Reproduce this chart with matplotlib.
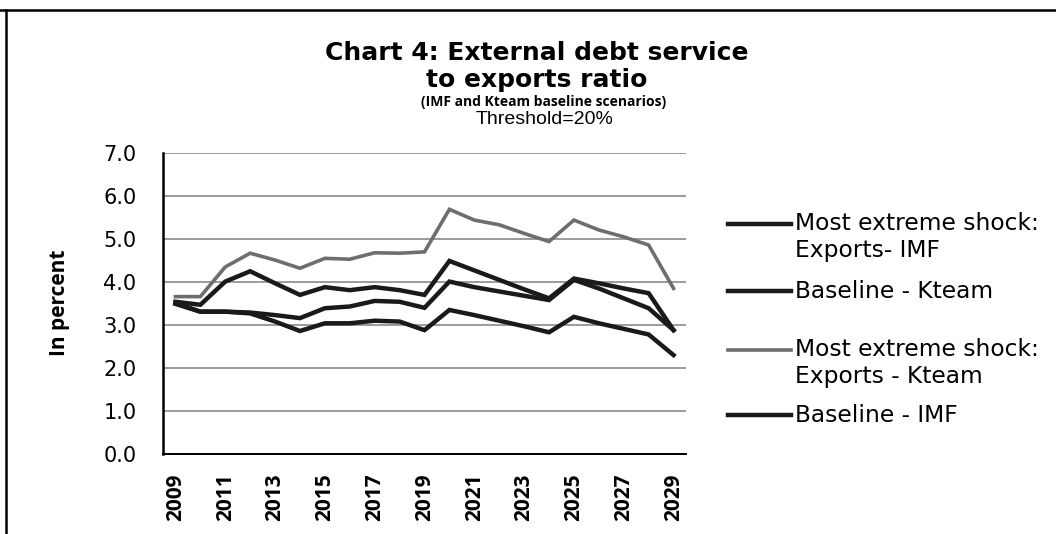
import matplotlib
matplotlib.use("Agg")
import matplotlib.pyplot as plt
from matplotlib.lines import Line2D

years = [str(y) for y in range(2009, 2030)]
tick_labels = [str(y) for y in range(2009, 2030, 2)]
y_ticks = [0, 1, 2, 3, 4, 5, 6, 7]

shock_imf = [3.54, 3.47, 4.01, 4.25, 3.97, 3.70, 3.88, 3.81, 3.88, 3.81, 3.70,
             4.49, 4.27, 4.05, 3.83, 3.62, 4.08, 3.97, 3.85, 3.74, 2.88]
base_kteam = [3.49, 3.31, 3.31, 3.29, 3.23, 3.16, 3.39, 3.43, 3.56, 3.54, 3.40,
              4.01, 3.88, 3.78, 3.68, 3.58, 4.05, 3.85, 3.62, 3.39, 2.88]
shock_kteam = [3.66, 3.66, 4.35, 4.67, 4.51, 4.32, 4.55, 4.53, 4.68, 4.67, 4.70,
               5.69, 5.44, 5.33, 5.13, 4.94, 5.44, 5.21, 5.05, 4.86, 3.85]
base_imf = [3.51, 3.31, 3.31, 3.27, 3.08, 2.86, 3.04, 3.04, 3.10, 3.08, 2.88,
            3.35, 3.23, 3.10, 2.97, 2.83, 3.19, 3.04, 2.91, 2.78, 2.30]

series = [
    (["Most extreme shock:", "Exports- IMF"], shock_imf, "#1a1a1a", 3.2),
    (["Baseline - Kteam"], base_kteam, "#1a1a1a", 3.2),
    (["Most extreme shock:", "Exports - Kteam"], shock_kteam, "#6e6e6e", 2.6),
    (["Baseline - IMF"], base_imf, "#1a1a1a", 3.2),
]

W, H = 1056, 534
fig = plt.figure(figsize=(W / 100, H / 100), dpi=100)
fig.patch.set_facecolor("white")

def fx(px):
    return px / W

def fy(py):
    return 1 - py / H

narrow = ["Open Sans", "DejaVu Sans"]

ax = fig.add_axes([fx(163), fy(454), fx(686) - fx(163), fy(153) - fy(454)])
x = list(range(len(years)))
for labels, vals, col, lw in series:
    ax.plot(x, vals, color=col, lw=lw, solid_joinstyle="miter")

ax.set_xlim(-0.5, len(years) - 0.5)
ax.set_ylim(0, 7)
ax.set_yticks(y_ticks)
ax.set_yticklabels([f"{v:.1f}" for v in y_ticks], fontsize=15, family="DejaVu Sans")
ax.set_xticks(x[::2])
ax.set_xticklabels(tick_labels, rotation=90, fontsize=15, fontweight="bold",
                   family=narrow)
ax.tick_params(axis="y", length=0, pad=19)
ax.tick_params(axis="x", length=0, pad=14)
for yv in y_ticks[1:]:
    ax.axhline(yv, color="#8a8a8a", lw=1.2, zorder=0)
for s in ["top", "right"]:
    ax.spines[s].set_visible(False)
ax.spines["left"].set_linewidth(1.8)
ax.spines["bottom"].set_linewidth(1.4)

# titles
fig.text(fx(537), fy(53), "Chart 4: External debt service", ha="center", va="center",
         fontsize=18, fontweight="bold", family="DejaVu Sans")
fig.text(fx(537), fy(80), "to exports ratio", ha="center", va="center",
         fontsize=18, fontweight="bold", family="DejaVu Sans")
fig.text(fx(544), fy(102), "(IMF and Kteam baseline scenarios)", ha="center", va="center",
         fontsize=10, fontweight="bold", family=narrow)
fig.text(fx(545), fy(119), "Threshold=20%", ha="center", va="center",
         fontsize=14, family="Liberation Sans")

fig.text(fx(60), fy(303), "In percent", rotation=90, ha="center", va="center",
         fontsize=15, fontweight="bold", family=narrow)

# legend (manual)
leg_y = [224, 291, 350, 415]
for (labels, vals, col, lw), yy in zip(series, leg_y):
    fig.add_artist(Line2D([fx(728), fx(791)], [fy(yy), fy(yy)], color=col, lw=lw))
    for i, t in enumerate(labels):
        fig.text(fx(795), fy(yy + i * 27), t, ha="left", va="center",
                 fontsize=16.8, family="DejaVu Sans")

# frame lines from the page
fig.add_artist(Line2D([0, 1], [fy(10), fy(10)], color="black", lw=1.8))
fig.add_artist(Line2D([fx(6), fx(6)], [fy(10), 0], color="black", lw=1.8))

fig.savefig("out.png", dpi=100)
